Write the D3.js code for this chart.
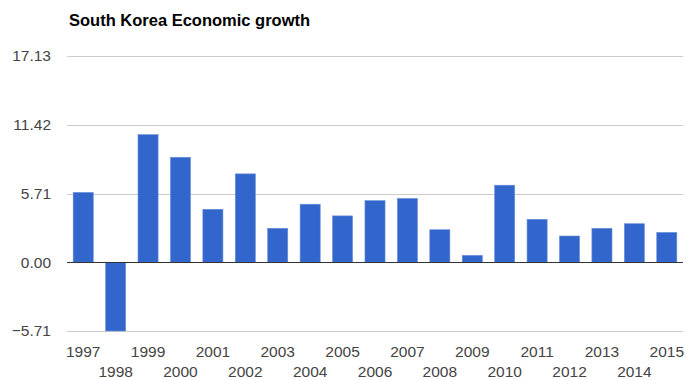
<!DOCTYPE html>
<html>
<head>
<meta charset="utf-8">
<script src="https://d3js.org/d3.v7.min.js"></script>
<style>
  body { margin: 0; background: #fff; }
  text { font-family: "Liberation Sans", Arial, sans-serif; }
</style>
</head>
<body>
<div id="chart"></div>
<script>
// data
const years = ["1997","1998","1999","2000","2001","2002","2003","2004","2005","2006",
               "2007","2008","2009","2010","2011","2012","2013","2014","2015"];
const growth = [5.8, -5.71, 10.6, 8.72, 4.4, 7.34, 2.82, 4.82, 3.85, 5.12,
                5.3, 2.7, 0.57, 6.4, 3.57, 2.18, 2.82, 3.2, 2.48];
const yTicks = [-5.71, 0, 5.71, 11.42, 17.13];

const width = 686, height = 380;
const margin = { top: 56, right: 3, bottom: 49, left: 67 };

const svg = d3.select("#chart")
    .append("svg")
    .attr("width", width)
    .attr("height", height);

const x = d3.scaleBand()
    .domain(years)
    .range([margin.left, width - margin.right])
    .paddingInner(0.38)
    .paddingOuter(0.19);

const y = d3.scaleLinear()
    .domain([-5.71, 17.13])
    .range([height - margin.bottom, margin.top]);

// title
svg.append("text")
    .attr("x", 69)
    .attr("y", 26)
    .style("font-size", "16.5px")
    .style("font-weight", "bold")
    .style("fill", "#000")
    .text("South Korea Economic growth");

// gridlines
svg.append("g")
    .selectAll("line")
    .data(yTicks.filter(d => d !== 0))
    .join("line")
    .attr("x1", margin.left)
    .attr("x2", width - margin.right)
    .attr("y1", d => Math.round(y(d)) + 0.5)
    .attr("y2", d => Math.round(y(d)) + 0.5)
    .style("stroke", "#ccc");

// y axis labels
const yAxis = d3.axisLeft(y)
    .tickValues(yTicks)
    .tickFormat(d3.format(".2f"))
    .tickSize(0)
    .tickPadding(16);

svg.append("g")
    .attr("transform", `translate(${margin.left},0)`)
    .call(yAxis)
    .call(g => g.select(".domain").remove())
    .call(g => g.selectAll("text")
        .style("font-size", "15.5px")
        .style("fill", "#444")
        .attr("font-family", null));

// bars
svg.append("g")
    .selectAll("rect")
    .data(growth)
    .join("rect")
    .attr("x", (d, i) => x(years[i]))
    .attr("width", x.bandwidth())
    .attr("y", d => y(Math.max(0, d)))
    .attr("height", d => Math.abs(y(d) - y(0)))
    .style("fill", "#3366cc")
    .style("stroke", "#6b8fd9")
    .style("stroke-width", 0.6);

// zero line
svg.append("line")
    .attr("x1", margin.left)
    .attr("x2", width - margin.right)
    .attr("y1", Math.round(y(0)) + 0.5)
    .attr("y2", Math.round(y(0)) + 0.5)
    .style("stroke", "#333");

// x axis labels, staggered in two rows
const xAxis = d3.axisBottom(x).tickSize(0).tickPadding(0);
svg.append("g")
    .attr("transform", `translate(0,${height - margin.bottom})`)
    .call(xAxis)
    .call(g => g.select(".domain").remove())
    .call(g => g.selectAll("text")
        .attr("dy", null)
        .attr("y", (d, i) => i % 2 === 0 ? 26 : 46)
        .style("font-size", "15.5px")
        .style("fill", "#444")
        .attr("font-family", null));
</script>
</body>
</html>
